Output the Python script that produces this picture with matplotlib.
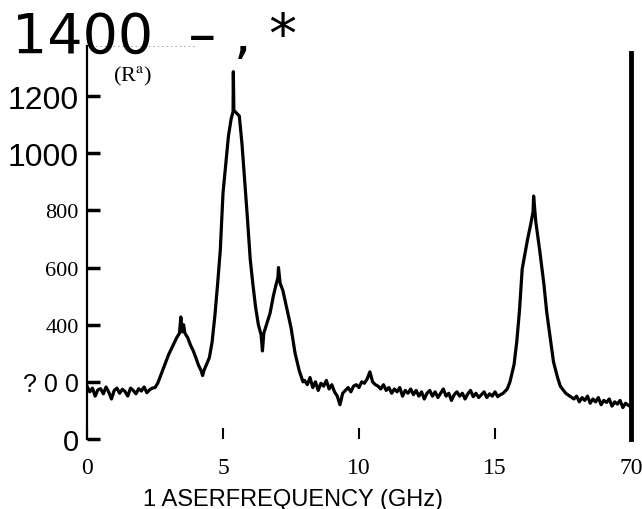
import matplotlib
matplotlib.use('Agg')
import matplotlib.pyplot as plt

# valores (frequência em GHz, contagens)
freq_base1 = [0.0, 0.1, 0.2, 0.3, 0.4, 0.5, 0.6, 0.7, 0.8, 0.9, 1.0, 1.1, 1.2, 1.3,
              1.4, 1.5, 1.6, 1.7, 1.8, 1.9, 2.0, 2.1, 2.2, 2.3, 2.4]
sig_base1 = [185, 165, 178, 150, 172, 176, 158, 182, 164, 140, 170, 178, 160, 174,
             166, 150, 178, 170, 158, 176, 168, 182, 162, 172, 178]

freq_peaks = [2.5, 2.6, 2.7, 2.8, 2.9, 3.0, 3.1, 3.2, 3.3, 3.4, 3.45, 3.5, 3.55, 3.6,
              3.7, 3.8, 3.9, 4.0, 4.1, 4.2, 4.25, 4.3, 4.4, 4.5, 4.6, 4.7, 4.8, 4.9,
              5.0, 5.1, 5.2, 5.3, 5.37, 5.38, 5.4, 5.5, 5.6, 5.7, 5.8, 5.9, 6.0,
              6.1, 6.2, 6.3, 6.4, 6.45, 6.5, 6.6, 6.73, 6.85, 6.95, 7.02, 7.04,
              7.1, 7.2, 7.35, 7.5, 7.65, 7.8, 7.94]
sig_peaks = [180, 195, 220, 245, 270, 295, 315, 335, 355, 370, 427, 375, 400, 370,
             355, 330, 310, 285, 258, 238, 222, 240, 262, 285, 340, 430, 540, 660,
             860, 960, 1060, 1120, 1145, 1285, 1150, 1140, 1130, 1030, 900, 770, 630,
             540, 460, 400, 365, 308, 370, 400, 440, 500, 540, 565, 600,
             545, 520, 455, 390, 300, 240, 200]

freq_base2 = [8.0, 8.1, 8.2, 8.3, 8.4, 8.5, 8.6, 8.7, 8.8, 8.9, 9.0, 9.1, 9.2, 9.3,
              9.4, 9.5, 9.6, 9.7, 9.8, 9.9, 10.0, 10.1, 10.2, 10.3, 10.4, 10.5, 10.6,
              10.7, 10.8, 10.9, 11.0, 11.1, 11.2, 11.3, 11.4, 11.5, 11.6, 11.7, 11.8,
              11.9, 12.0, 12.1, 12.2, 12.3, 12.4, 12.5, 12.6, 12.7, 12.8, 12.9, 13.0,
              13.1, 13.2, 13.3, 13.4, 13.5, 13.6, 13.7, 13.8, 13.9, 14.0, 14.1, 14.2,
              14.3, 14.4, 14.5, 14.6, 14.7, 14.8, 14.9, 15.0, 15.1, 15.2, 15.3]
sig_base2 = [205, 190, 215, 180, 200, 170, 195, 185, 205, 175, 190, 165, 150, 120,
             160, 170, 180, 165, 185, 190, 180, 200, 195, 210, 235, 200, 190,
             185, 175, 190, 170, 180, 160, 175, 165, 180, 150, 170, 160,
             175, 155, 170, 150, 165, 140, 160, 170, 150, 165, 145, 160,
             175, 150, 160, 135, 155, 165, 150, 160, 140, 158, 170, 148,
             160, 145, 155, 165, 145, 158, 150, 165, 148, 155, 160]

freq_peak3 = [15.45, 15.55, 15.7, 15.8, 15.9, 16.0, 16.2, 16.3, 16.4, 16.42, 16.5,
              16.65, 16.8, 16.9, 17.05, 17.15, 17.3, 17.4, 17.6, 17.75]
sig_peak3 = [175, 200, 260, 340, 450, 595, 700, 745, 795, 850, 760,
             655, 540, 445, 340, 270, 215, 185, 160, 150]

freq_base3 = [17.9, 18.0, 18.1, 18.2, 18.3, 18.4, 18.5, 18.6, 18.7, 18.8, 18.9,
              19.0, 19.1, 19.2, 19.3, 19.4, 19.5, 19.6, 19.7, 19.8, 19.9, 20.0]
sig_base3 = [140, 150, 130, 145, 135, 150, 125, 140, 130, 145, 120,
             135, 128, 140, 115, 130, 122, 135, 110, 125, 118, 112]

x_ticks = [0, 5, 10, 15, 20]
x_labels = ['0', '5', '10', '15', '70']
y_ticks = [0, 200, 400, 600, 800, 1000, 1200]
y_labels = ['0', '? 0 0', '400', '600', '800', '1000', '1200']

freq = freq_base1 + freq_peaks + freq_base2 + freq_peak3 + freq_base3
sig = sig_base1 + sig_peaks + sig_base2 + sig_peak3 + sig_base3

plt.rcParams['mathtext.fontset'] = 'stix'

fig = plt.figure(figsize=(6.42, 5.10), dpi=100)
ax = fig.add_axes([87 / 642, 70 / 510, 544 / 642, 393 / 510])

ax.plot(freq, sig, color='black', lw=2.3)

ax.set_xlim(0, 20)
ax.set_ylim(0, 1375)

ax.spines['top'].set_visible(False)
ax.spines['bottom'].set_visible(False)
ax.spines['left'].set_linewidth(1.6)
ax.spines['right'].set_linewidth(3.5)
ax.spines['right'].set_bounds(0, 1350)
ax.axhline(1375, xmax=0.2, color='#999999', lw=1.2, ls=':')

ax.set_xticks(x_ticks)
ax.set_xticklabels(x_labels, fontfamily='Liberation Serif', fontsize=17)
ax.tick_params(axis='x', direction='in', length=8, width=1.5, pad=13)
ax.set_yticks(y_ticks)
ax.set_yticklabels(y_labels, fontfamily='Liberation Serif', fontsize=16)
ax.tick_params(axis='y', direction='in', length=9, width=2.5, pad=6)

# rótulos com fontes diferentes, como no original digitalizado
for lab in ax.get_yticklabels():
    t = lab.get_text()
    if t in ('1200', '1000'):
        lab.set_fontfamily('Liberation Sans')
        lab.set_fontsize(23)
    elif t == '? 0 0':
        lab.set_fontfamily('Liberation Sans')
        lab.set_fontsize(18)
    elif t == '0':
        lab.set_fontfamily('Liberation Sans')
        lab.set_fontsize(21)

fig.text(12 / 642, 1 - 38 / 510, '1400  \u2013 , *', fontsize=40,
         fontfamily='DejaVu Sans', va='center', ha='left')

ax.text(0.048, 0.925, '(R$^{\\mathrm{a}}$)', transform=ax.transAxes,
        fontsize=16, fontfamily='Liberation Serif', va='center')

ax.set_xlabel('1 ASERFREQUENCY (GHz)', fontfamily='Liberation Sans',
              fontsize=17, labelpad=4)
ax.xaxis.set_label_coords(0.379, -0.125)

fig.savefig('out.png', dpi=100)
